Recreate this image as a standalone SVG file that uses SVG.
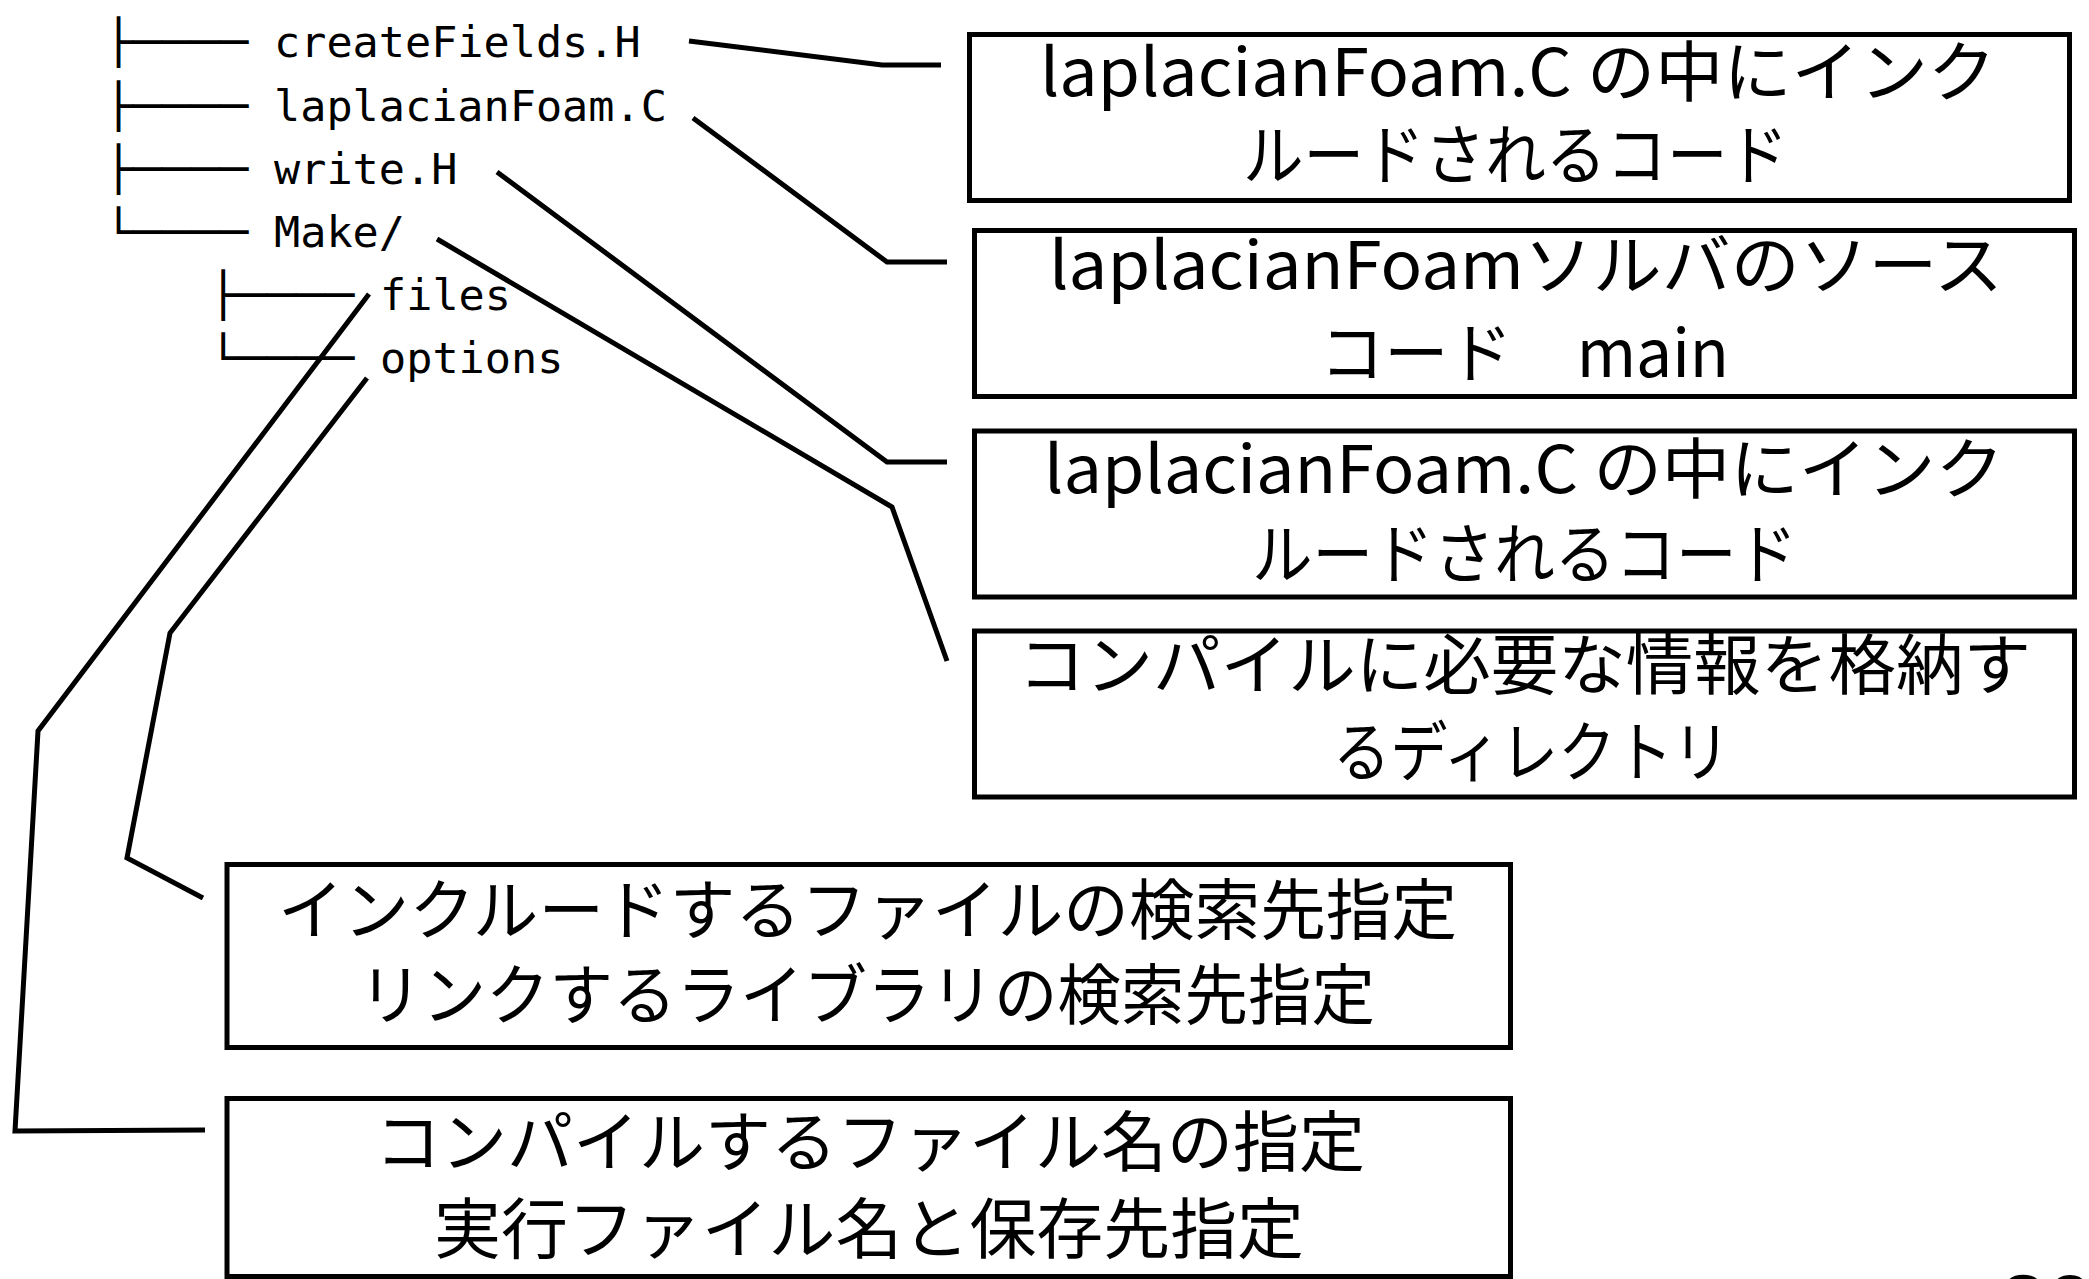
<svg xmlns="http://www.w3.org/2000/svg" width="2089" height="1279" viewBox="0 0 2089 1279">
<style>
.bg{fill:#fff}
.box{fill:#fff;stroke:#000;stroke-width:5}
.jp{font-family:"Noto Sans CJK JP","Noto Sans",sans-serif;font-size:66px;fill:#000}
.mono{font-family:"DejaVu Sans Mono",monospace;font-size:43.5px;fill:#000}
.conn{fill:none;stroke:#000;stroke-width:5;stroke-linejoin:miter}
.pg{font-family:"Liberation Sans",sans-serif;font-weight:bold;font-size:84px;fill:#000}
</style>
<rect class="bg" x="0" y="0" width="2089" height="1279"/>
<g id="tree">
  <text class="mono" x="104" y="57.3" textLength="144" lengthAdjust="spacingAndGlyphs">├────</text>
  <text class="mono" x="274" y="57.3">createFields.H</text>
  <text class="mono" x="104" y="120.7" textLength="144" lengthAdjust="spacingAndGlyphs">├────</text>
  <text class="mono" x="274" y="120.7">laplacianFoam.C</text>
  <text class="mono" x="104" y="184" textLength="144" lengthAdjust="spacingAndGlyphs">├────</text>
  <text class="mono" x="274" y="184">write.H</text>
  <text class="mono" x="104" y="247" textLength="144" lengthAdjust="spacingAndGlyphs">└────</text>
  <text class="mono" x="274" y="247">Make/</text>
  <text class="mono" x="208.6" y="310" textLength="145.4" lengthAdjust="spacingAndGlyphs">├────</text>
  <text class="mono" x="380" y="310">files</text>
  <text class="mono" x="208.6" y="373" textLength="145.4" lengthAdjust="spacingAndGlyphs">└────</text>
  <text class="mono" x="380" y="373">options</text>
</g>
<g id="connectors">
  <polyline class="conn" points="689,41 882,65 941,65"/>
  <polyline class="conn" points="693,118 887,262 947,262"/>
  <polyline class="conn" points="497,172 887,462 947,462"/>
  <polyline class="conn" points="437,239 892,507 947,661"/>
  <polyline class="conn" points="369,294 38,731 15,1131 205,1130"/>
  <polyline class="conn" points="367,378 170,633 127,858 203,898"/>
</g>
<g id="node-createFields">
  <rect class="box" x="969.5" y="34.5" width="1100" height="166"/>
  <text class="jp" x="1040" y="96" textLength="956" lengthAdjust="spacingAndGlyphs">laplacianFoam.C の中にインク</text>
  <text class="jp" x="1243" y="179" textLength="545" lengthAdjust="spacingAndGlyphs">ルードされるコード</text>
</g>
<g id="node-laplacianFoam">
  <rect class="box" x="974.5" y="230.5" width="1100" height="166"/>
  <text class="jp" x="1049" y="289" textLength="954" lengthAdjust="spacingAndGlyphs">laplacianFoamソルバのソース</text>
  <text class="jp" x="1320" y="377" textLength="409" lengthAdjust="spacingAndGlyphs">コード　main</text>
</g>
<g id="node-write">
  <rect class="box" x="974.5" y="431" width="1100" height="166"/>
  <text class="jp" x="1044" y="493" textLength="960" lengthAdjust="spacingAndGlyphs">laplacianFoam.C の中にインク</text>
  <text class="jp" x="1252" y="578" textLength="545" lengthAdjust="spacingAndGlyphs">ルードされるコード</text>
</g>
<g id="node-make">
  <rect class="box" x="974.5" y="631" width="1100" height="166"/>
  <text class="jp" x="1018" y="689" textLength="1013" lengthAdjust="spacingAndGlyphs">コンパイルに必要な情報を格納す</text>
  <text class="jp" x="1333" y="776" textLength="397" lengthAdjust="spacingAndGlyphs">るディレクトリ</text>
</g>
<g id="node-options">
  <rect class="box" x="227" y="864.5" width="1283.5" height="183"/>
  <text class="jp" x="278" y="934" textLength="1179" lengthAdjust="spacingAndGlyphs">インクルードするファイルの検索先指定</text>
  <text class="jp" x="359" y="1019" textLength="1016" lengthAdjust="spacingAndGlyphs">リンクするライブラリの検索先指定</text>
</g>
<g id="node-files">
  <rect class="box" x="227" y="1098.5" width="1283.5" height="178"/>
  <text class="jp" x="375" y="1166" textLength="990" lengthAdjust="spacingAndGlyphs">コンパイルするファイル名の指定</text>
  <text class="jp" x="434" y="1253" textLength="870" lengthAdjust="spacingAndGlyphs">実行ファイル名と保存先指定</text>
</g>
<text class="pg" x="2000" y="1333">30</text>
</svg>
